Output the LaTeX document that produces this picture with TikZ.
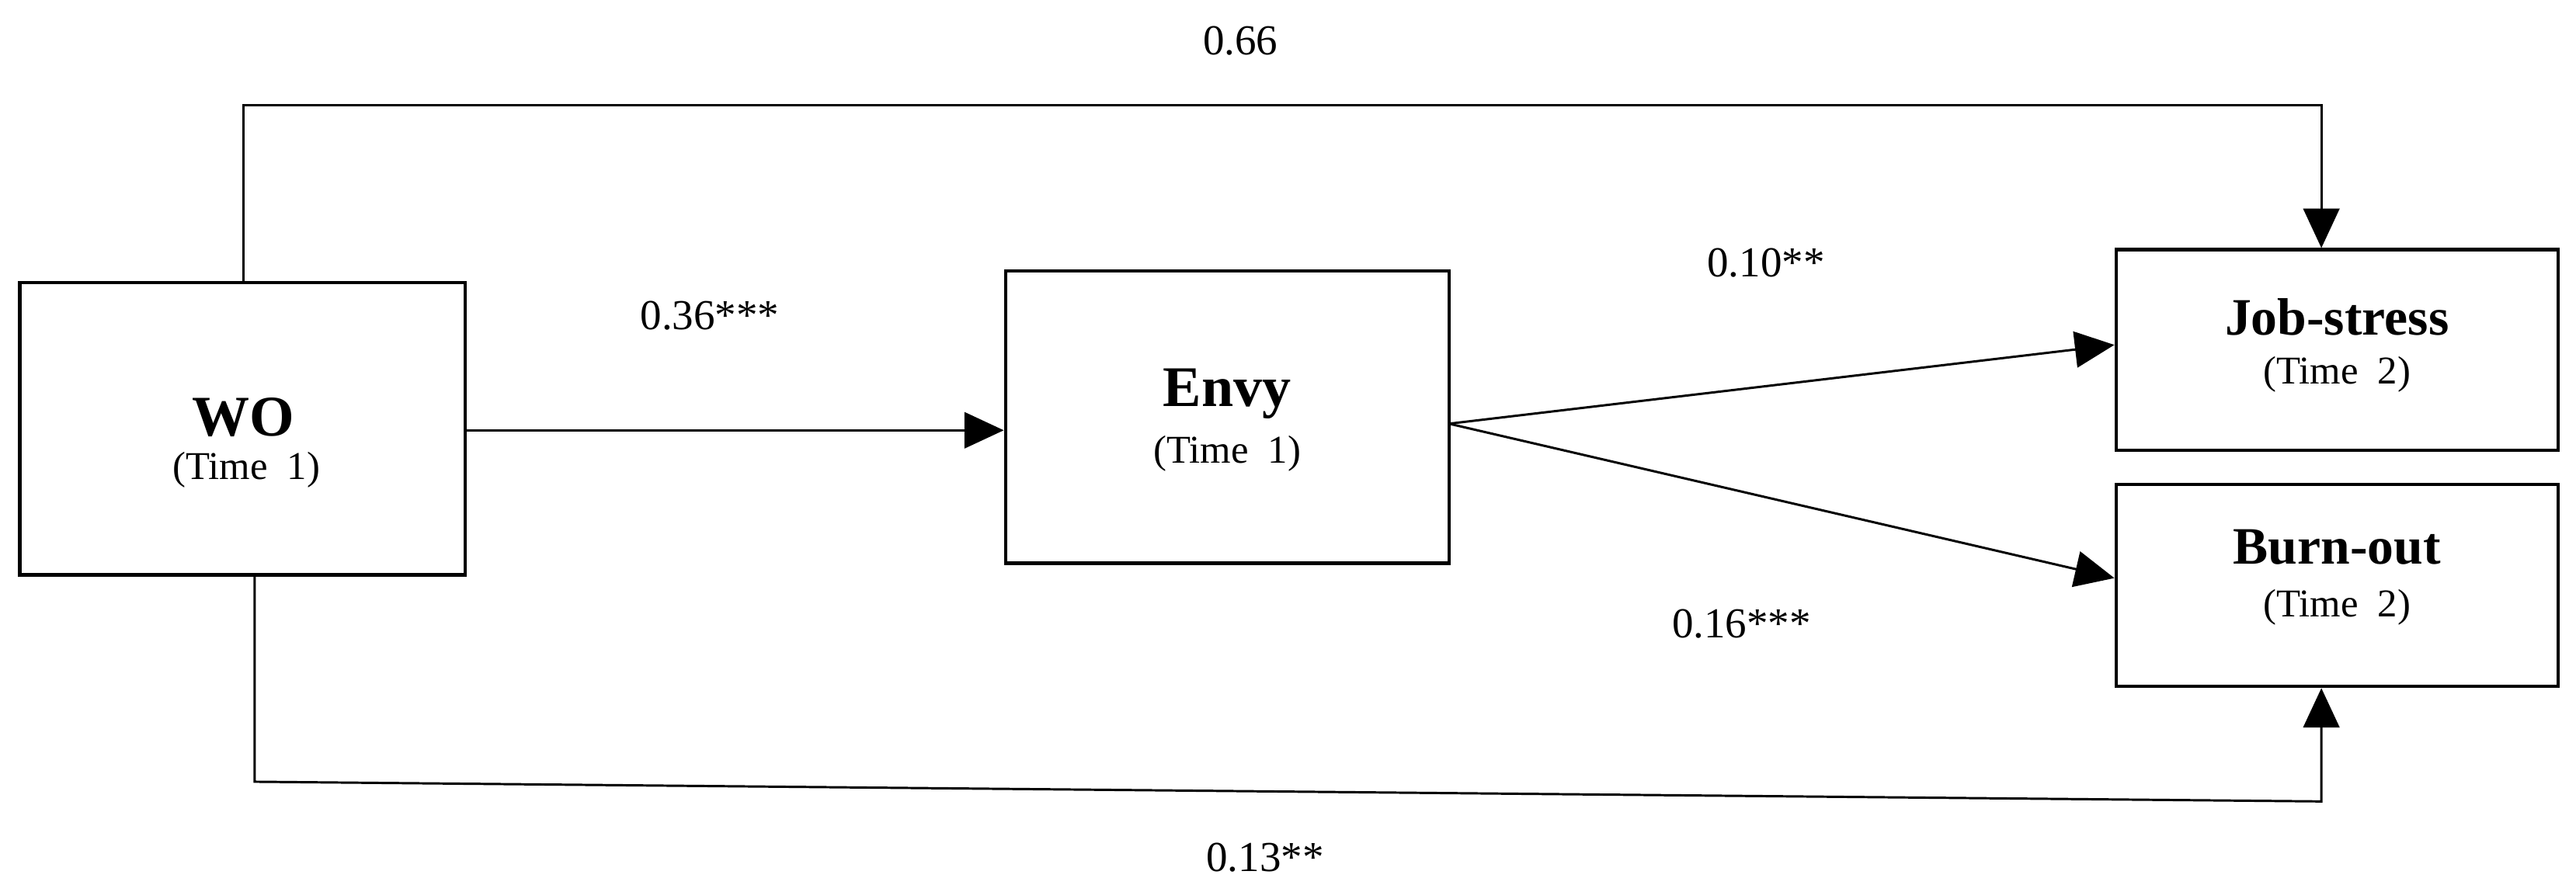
\documentclass[tikz,border=0pt]{standalone}
\usepackage{fontspec}
\setmainfont{Liberation Serif}
\usetikzlibrary{arrows.meta}
\begin{document}
\begin{tikzpicture}[x=1pt,y=-1pt,
  box/.style={draw,line width=2pt,inner sep=0pt},
  con/.style={line width=1.4pt,-{Triangle[length=24pt,width=22pt]}},
  ttl/.style={font=\fontsize{35}{40}\selectfont\bfseries,inner sep=0pt},
  sub/.style={font=\fontsize{24}{28}\selectfont,inner sep=0pt},
  lab/.style={font=\fontsize{26}{30}\selectfont}]
\useasboundingbox (0,0) rectangle (1568,543);
\node[box,minimum width=271pt,minimum height=178pt] (wo) at (147.5,261) {};
\node[ttl] (wot) at (148,254) {WO};
\node[sub] (wos) at (150,286) {(Time\ \ 1)};
\node[box,minimum width=270pt,minimum height=178pt] (envy) at (747,254) {};
\node[ttl] (et) at (747,240) {Envy};
\node[sub] (es) at (747,276) {(Time\ \ 1)};
\node[box,minimum width=269pt,minimum height=122pt] (js) at (1422.5,213) {};
\node[ttl,font=\fontsize{32}{36}\selectfont\bfseries] (jst) at (1422.5,193) {Job-stress};
\node[sub] (jss) at (1422.5,228) {(Time\ \ 2)};
\node[box,minimum width=269pt,minimum height=123pt] (bo) at (1422.5,356.5) {};
\node[ttl,font=\fontsize{32}{36}\selectfont\bfseries] (bot) at (1422.5,333) {Burn-out};
\node[sub] (bos) at (1422.5,370) {(Time\ \ 2)};
\coordinate (e0) at (882,258);
\draw[con] (wo.east |- 0,262) -- (envy.west |- 0,262);
\draw[con] (e0) -- (js.west |- 0,210);
\draw[con] (e0) -- (bo.west |- 0,352);
\coordinate (t1) at (148,64); \coordinate (t2) at (1413,64);
\draw[con] (wo.north -| t1) -- (t1) -- (t2) -- (js.north -| t2);
\coordinate (b1) at (155,476); \coordinate (b2) at (1413,488);
\draw[con] (wo.south -| b1) -- (b1) -- (b2) -- (bo.south -| b2);
\node[lab] at (755,25) {0.66};
\node[lab] at (432,192) {0.36***};
\node[lab] at (1075,160) {0.10**};
\node[lab] at (1060,380) {0.16***};
\node[lab] at (770,522) {0.13**};
\end{tikzpicture}
\end{document}
